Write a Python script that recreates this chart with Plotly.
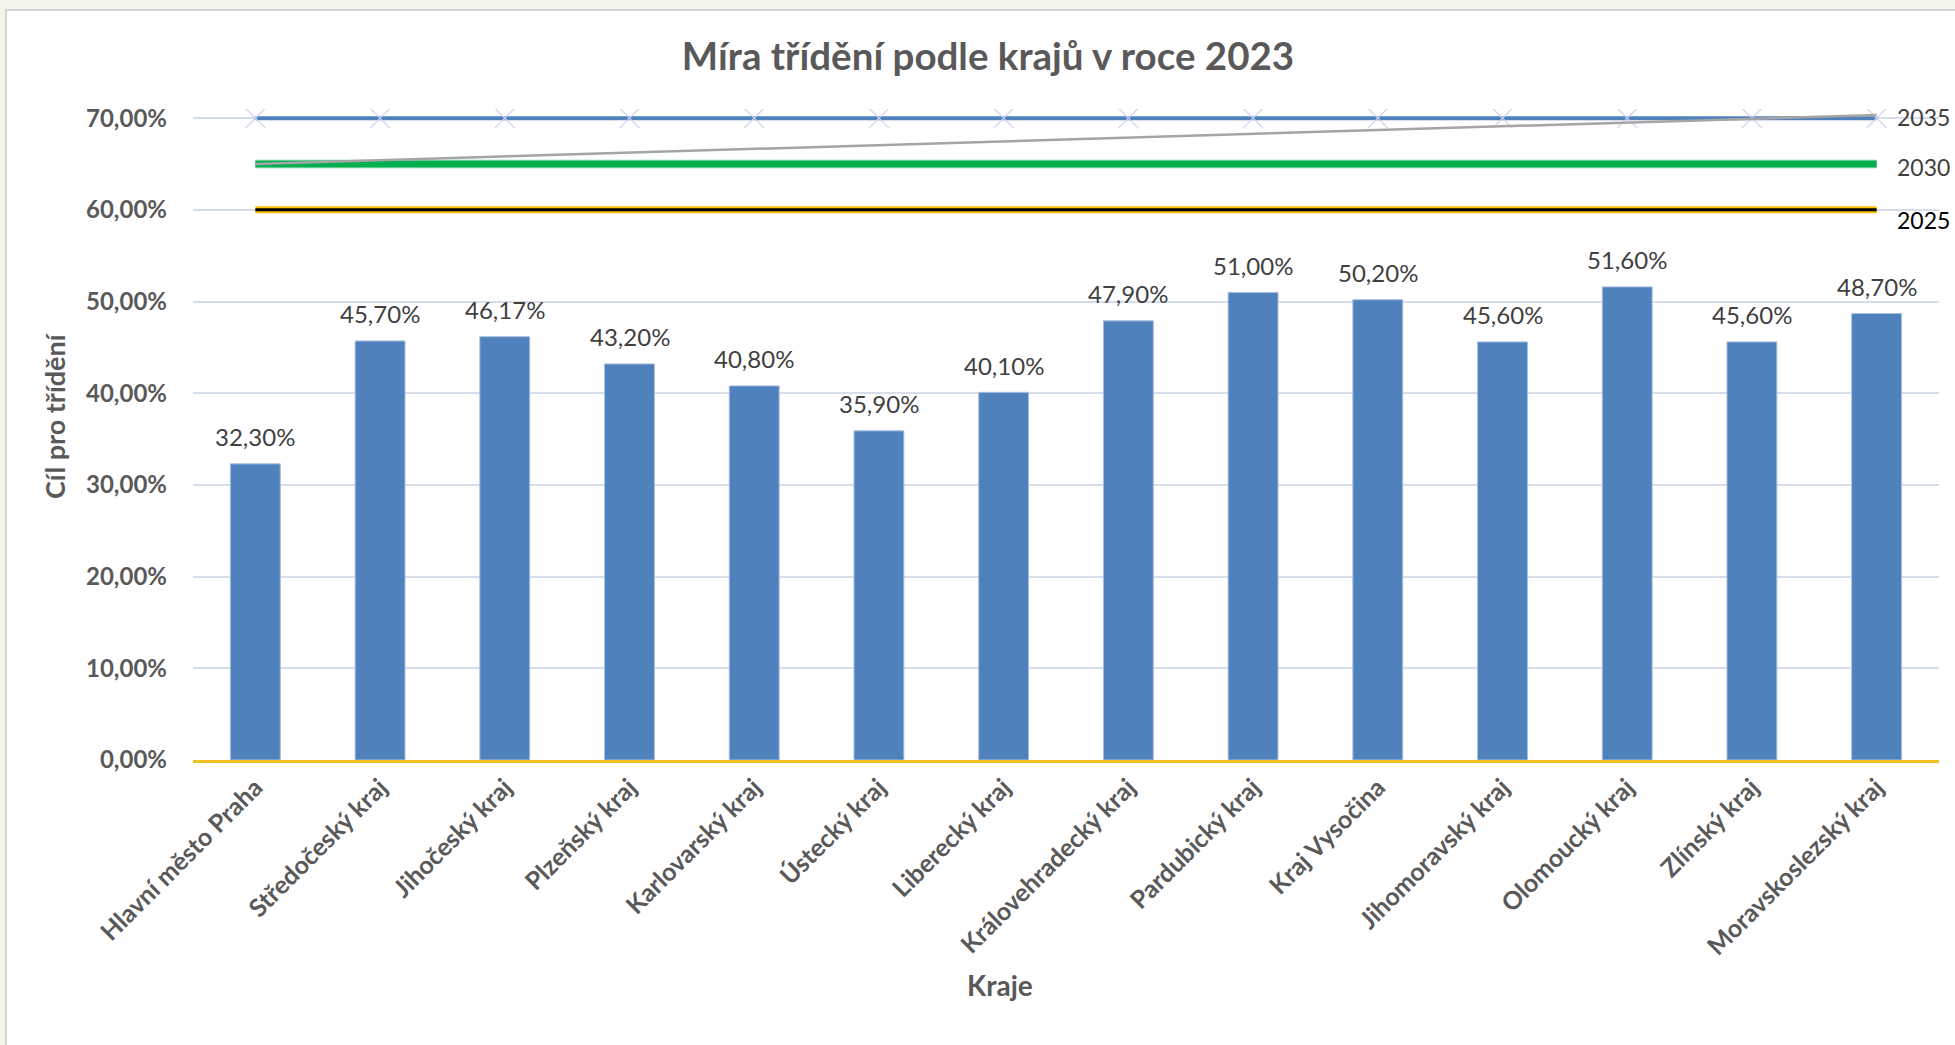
import plotly.graph_objects as go

regions = ["Hlavní město Praha", "Středočeský kraj", "Jihočeský kraj", "Plzeňský kraj",
           "Karlovarský kraj", "Ústecký kraj", "Liberecký kraj", "Královehradecký kraj",
           "Pardubický kraj", "Kraj Vysočina", "Jihomoravský kraj", "Olomoucký kraj",
           "Zlínský kraj", "Moravskoslezský kraj"]
sorting_rate = [0.323, 0.457, 0.4617, 0.432, 0.408, 0.359, 0.401, 0.479,
                0.510, 0.502, 0.456, 0.516, 0.456, 0.487]

target_2025 = [0.60] * len(regions)
target_2030 = [0.65] * len(regions)
target_2035 = [0.70] * len(regions)
trend_x = [regions[0], regions[-1]]
trend_y = [0.65, 0.7035]

target_labels = ["2035", "2030", "2025"]
target_values = [0.70, 0.65, 0.60]

FONT = "Lato"
W, H = 1955, 1045
L, R, T, B = 193, 16, 109, 285
pw = W - L - R
ph = H - T - B

fig = go.Figure()

fig.add_trace(go.Bar(
    x=regions, y=sorting_rate,
    marker=dict(color="#4F81BD", line=dict(color="#A9BFDF", width=1)),
    showlegend=False, hoverinfo="skip",
))

# 2025 target: gold outline with black core
fig.add_trace(go.Scatter(x=regions, y=target_2025, mode="lines",
                         line=dict(color="#FFC000", width=7), showlegend=False, hoverinfo="skip"))
fig.add_trace(go.Scatter(x=regions, y=target_2025, mode="lines",
                         line=dict(color="#000000", width=3), showlegend=False, hoverinfo="skip"))
# 2030 target: green
fig.add_trace(go.Scatter(x=regions, y=target_2030, mode="lines",
                         line=dict(color="#B9EBCB", width=9), showlegend=False, hoverinfo="skip"))
fig.add_trace(go.Scatter(x=regions, y=target_2030, mode="lines",
                         line=dict(color="#00B050", width=7), showlegend=False, hoverinfo="skip"))
# 2035 target: blue with x markers
fig.add_trace(go.Scatter(x=regions, y=target_2035, mode="lines+markers",
                         line=dict(color="#4F81BD", width=4),
                         marker=dict(symbol="x-thin", size=20,
                                     line=dict(color="#CFCFF2", width=1.2)),
                         showlegend=False, hoverinfo="skip"))
# gray trend line
fig.add_trace(go.Scatter(x=trend_x, y=trend_y, mode="lines",
                         line=dict(color="#A5A5A5", width=2.5), showlegend=False, hoverinfo="skip"))

annotations = []
for r, v in zip(regions, sorting_rate):
    annotations.append(dict(
        x=r, y=v, xref="x", yref="y",
        text=f"{v*100:.2f}%".replace(".", ","),
        showarrow=False, yanchor="middle", yshift=27,
        font=dict(family=FONT, size=24, color="#404040"),
    ))

label_shifts = [1, -3, -10]
label_colors = ["#404040", "#404040", "#000000"]
for lab, v, s, c in zip(target_labels, target_values, label_shifts, label_colors):
    annotations.append(dict(
        x=regions[-1], y=v, xref="x", yref="y", text=lab, showarrow=False,
        xanchor="left", yanchor="middle", xshift=19, yshift=s, borderpad=0,
        font=dict(family=FONT, size=23, color=c),
    ))

# axis titles
annotations.append(dict(
    x=(54 - L) / pw, y=(H - B - 416) / ph, xref="paper", yref="paper",
    text="<b>Cíl pro třídění</b>", textangle=-90, showarrow=False,
    xanchor="center", yanchor="middle",
    font=dict(family=FONT, size=27, color="#595959"),
))
annotations.append(dict(
    x=(1000 - L) / pw, y=(H - B - 985) / ph, xref="paper", yref="paper",
    text="<b>Kraje</b>", showarrow=False, xanchor="center", yanchor="middle",
    font=dict(family=FONT, size=28, color="#595959"),
))

shapes = [dict(
    type="rect", xref="paper", yref="paper", layer="below",
    x0=(6 - L) / pw, x1=(W + 10 - L) / pw,
    y0=(H - B - (H + 10)) / ph, y1=(H - B - 10) / ph,
    fillcolor="#FFFFFF", line=dict(color="#D4D4D4", width=2),
)]

fig.update_layout(
    width=W, height=H,
    margin=dict(l=L, r=R, t=T, b=B, pad=0),
    paper_bgcolor="#F1F5EA", plot_bgcolor="#FFFFFF",
    separators=", ",
    bargap=0.6,
    title=dict(text="<b>Míra třídění podle krajů v roce 2023</b>",
               xref="container", yref="container", x=988 / W, y=1 - 57 / H,
               xanchor="center", yanchor="middle",
               font=dict(family=FONT, size=38.5, color="#595959")),
    xaxis=dict(type="category", range=[-0.5, len(regions) - 0.5],
               showgrid=False, showline=True, linecolor="#F0C020",
               linewidth=3, ticks="", tickangle=-45,
               tickfont=dict(family=FONT, size=25, color="#595959", weight="bold"),
               fixedrange=True),
    yaxis=dict(range=[0, 0.71], dtick=0.1, tickformat=".2%", showgrid=True,
               gridcolor="#D6DEEB", gridwidth=1.5, zeroline=False, showline=False,
               ticks="", ticklabelstandoff=25,
               tickfont=dict(family=FONT, size=24, color="#595959", weight="bold"),
               fixedrange=True),
    annotations=annotations,
    shapes=shapes,
)

fig.write_html("out.html", config={"displayModeBar": False},
               post_script="document.body.style.margin='0';document.body.style.overflow='hidden';")
